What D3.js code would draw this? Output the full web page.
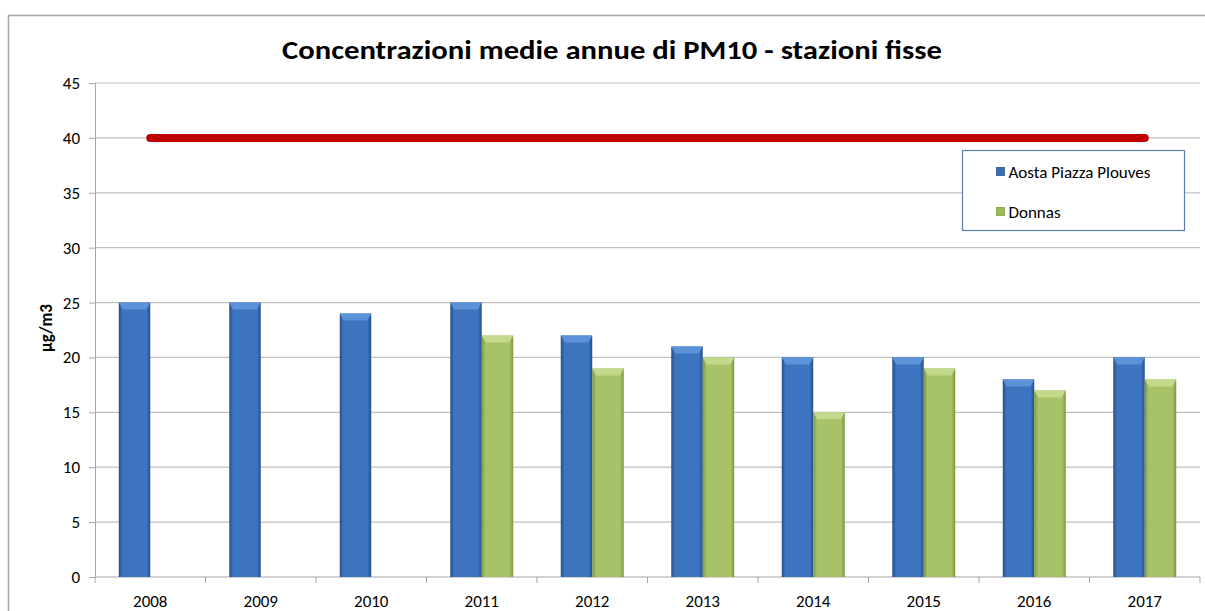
<!DOCTYPE html>
<html>
<head>
<meta charset="utf-8">
<script src="https://cdn.jsdelivr.net/npm/d3@7"></script>
<style>
    body { margin: 0; background: #fff; }
    svg { display: block; font-family: Carlito, "Liberation Sans", Arial, sans-serif; }
</style>
</head>
<body>
<div class="graph_container"></div>
<script>
// data
const years = ["2008", "2009", "2010", "2011", "2012", "2013", "2014", "2015", "2016", "2017"];
const aosta = [25, 25, 24, 25, 22, 21, 20, 20, 18, 20];
const donnas = [null, null, null, 22, 19, 20, 15, 19, 17, 18];
const limitValue = 40;
const seriesNames = ["Aosta Piazza Plouves", "Donnas"];
const yTicks = [0, 5, 10, 15, 20, 25, 30, 35, 40, 45];

// dimensions
const W = 1205, H = 611;
const margin_left = 95, margin_right = 5, margin_top = 83, margin_bottom = 34;
const width = W - margin_left - margin_right;
const height = H - margin_top - margin_bottom;
const fontStack = "Carlito, 'Liberation Sans', Arial, sans-serif";

const svg = d3.select(".graph_container").append("svg").attr("width", W).attr("height", H);

// gradients for the bevelled bars
const defs = svg.append("defs");
function addGrad(id, dark, light) {
    const g = defs.append("linearGradient").attr("id", id).attr("x1", "0").attr("x2", "1").attr("y1", "0").attr("y2", "0");
    g.append("stop").attr("offset", "0%").attr("stop-color", dark);
    g.append("stop").attr("offset", "12%").attr("stop-color", light);
    g.append("stop").attr("offset", "88%").attr("stop-color", light);
    g.append("stop").attr("offset", "100%").attr("stop-color", dark);
}
addGrad("gBlue", "#284f86", "#3c74c0");
addGrad("gGreen", "#7b9742", "#a7c267");
const colors = ["url(#gBlue)", "url(#gGreen)"];
const capColors = ["#5b92d8", "#c3da8c"];
const legendColors = ["#3a6db3", "#9bbb59"];

// outer chart border
svg.append("rect").attr("x", 8.5).attr("y", 15.5).attr("width", W).attr("height", H)
    .attr("fill", "none").attr("stroke", "#a6a6a6").attr("stroke-width", 1.5);

// title
svg.append("text").attr("x", 612).attr("y", 59).attr("text-anchor", "middle")
    .attr("font-size", 27).attr("font-weight", "bold")
    .attr("textLength", 660).attr("lengthAdjust", "spacingAndGlyphs")
    .text("Concentrazioni medie annue di PM10 - stazioni fisse");

const g = svg.append("g").attr("transform", "translate(" + margin_left + "," + margin_top + ")");

// scales
const x0 = d3.scaleBand().domain(years).range([0, width]).paddingInner(0.43).paddingOuter(0.215);
const xCat = d3.scaleBand().domain(years).range([0, width]);
const x1 = d3.scaleBand().domain([0, 1]).range([0, x0.bandwidth()]);
const y = d3.scaleLinear().domain([0, 45]).range([height, 0]);

// gridlines
g.append("g").selectAll("line").data(yTicks.slice(1)).enter().append("line")
    .attr("x1", 0).attr("x2", width)
    .attr("y1", (d) => y(d)).attr("y2", (d) => y(d))
    .attr("stroke", "#bfbfbf").attr("stroke-width", 1.2);

// y axis
const yAxis = d3.axisLeft(y).tickValues(yTicks).tickSize(6).tickPadding(9);
g.append("g").call(yAxis).attr("font-family", fontStack).attr("font-size", 17).call((s) => {
    s.select(".domain").attr("stroke", "#a6a6a6");
    s.selectAll(".tick line").attr("stroke", "#a6a6a6");
    s.selectAll(".tick text").attr("fill", "#000");
});

// x axis with ticks between categories
const xAxisG = g.append("g").attr("transform", "translate(0," + height + ")");
xAxisG.append("line").attr("x1", 0).attr("x2", width).attr("stroke", "#a6a6a6").attr("stroke-width", 1.2);
xAxisG.selectAll(".xt").data(years.concat(["end"])).enter().append("line")
    .attr("x1", (d, i) => i * xCat.step()).attr("x2", (d, i) => i * xCat.step())
    .attr("y1", 0).attr("y2", 6).attr("stroke", "#a6a6a6");
xAxisG.selectAll("text").data(years).enter().append("text")
    .attr("x", (d) => xCat(d) + xCat.bandwidth() / 2).attr("y", 30)
    .attr("text-anchor", "middle").attr("font-size", 17).text((d) => d);

// y label
svg.append("text").attr("transform", "translate(52," + 328 + ") rotate(-90)")
    .attr("text-anchor", "middle").attr("font-size", 17).attr("font-weight", "bold").text("µg/m3");

// bars
[aosta, donnas].forEach((series, si) => {
    const bars = g.append("g").selectAll("g").data(years.map((yr, i) => ({ yr, v: series[i] })).filter((d) => d.v != null))
        .enter().append("g");
    bars.append("rect")
        .attr("x", (d) => x0(d.yr) + x1(si))
        .attr("y", (d) => y(d.v))
        .attr("width", x1.bandwidth())
        .attr("height", (d) => height - y(d.v))
        .attr("fill", colors[si]);
    bars.append("path")
        .attr("d", (d) => {
            const xa = x0(d.yr) + x1(si), xb = xa + x1.bandwidth(), yt = y(d.v);
            return "M" + xa + "," + yt + "L" + xb + "," + yt + "L" + (xb - 4) + "," + (yt + 7) + "L" + (xa + 4) + "," + (yt + 7) + "Z";
        })
        .attr("fill", capColors[si]);
});

// limit line
g.append("line")
    .attr("x1", xCat(years[0]) + xCat.bandwidth() / 2)
    .attr("x2", xCat(years[years.length - 1]) + xCat.bandwidth() / 2)
    .attr("y1", y(limitValue)).attr("y2", y(limitValue))
    .attr("stroke", "#c00000").attr("stroke-width", 8).attr("stroke-linecap", "round");

// legend
const lg = svg.append("g").attr("transform", "translate(962.5,150.5)");
lg.append("rect").attr("width", 222).attr("height", 80).attr("fill", "#fff").attr("stroke", "#5a7fb5").attr("stroke-width", 1.2);
seriesNames.forEach((name, i) => {
    const row = lg.append("g").attr("transform", "translate(34," + (21 + i * 40) + ")");
    row.append("rect").attr("x", 0).attr("y", -4).attr("width", 8).attr("height", 8)
        .attr("fill", legendColors[i]).attr("stroke", i === 0 ? "#2a558f" : "#7f9c44").attr("stroke-width", 0.8);
    row.append("text").attr("x", 12).attr("y", 6).attr("font-size", 17).text(name);
});
</script>
</body>
</html>
